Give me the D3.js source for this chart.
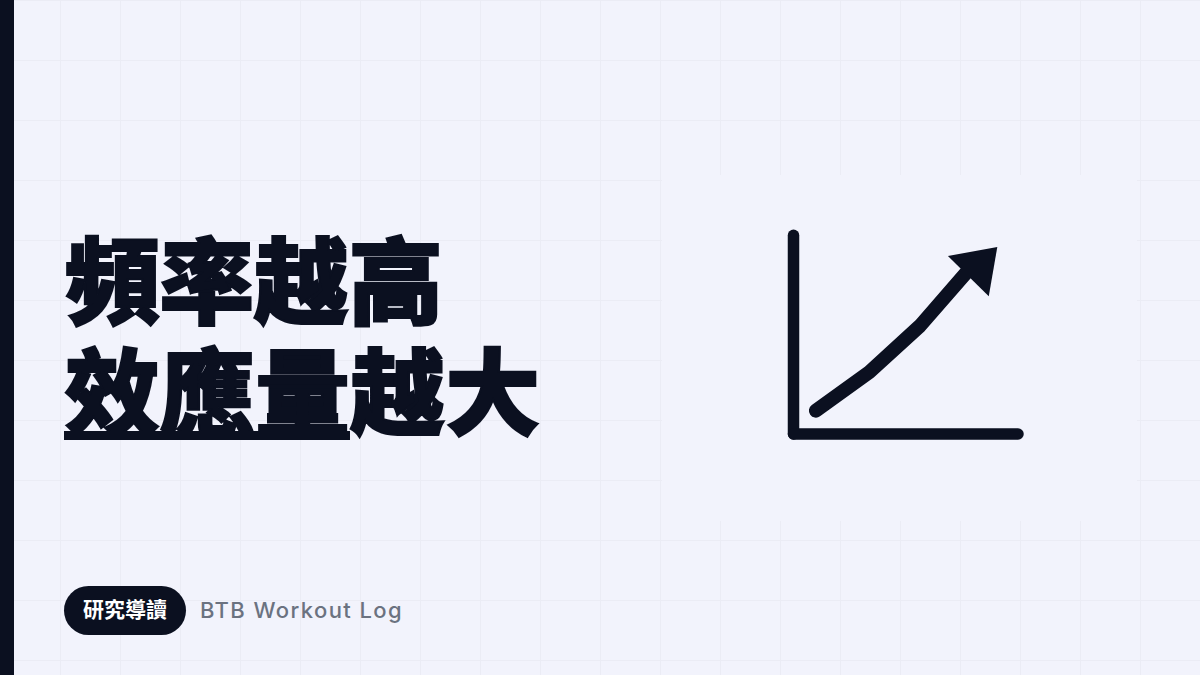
<!DOCTYPE html>
<html>
<head>
<meta charset="utf-8">
<script src="https://cdn.jsdelivr.net/npm/d3@7"></script>
<style>
  html, body { margin: 0; padding: 0; background: #f2f3fc; }
  svg { display: block; }
</style>
</head>
<body>
<svg class="d3-svg"></svg>
<script>
// values (icon axes run 0-100)
const titleLines = ["頻率越高", "效應量越大"];
const tagLabel = "研究導讀";
const brandLabel = "BTB Workout Log";
const curveX = [10.2, 34, 56.6, 76.9];
const curveY = [11.5, 30.9, 54.2, 80.5];
const arrowX = [91, 69, 87.2];
const arrowY = [93.8, 89.3, 69];

const width = 1200;
const height = 675;
const ink = "#0b1020";
const paper = "#f2f3fc";
const cjk = "'Noto Sans CJK TC', 'Noto Sans CJK SC', sans-serif";

const svg = d3.select(".d3-svg").attr("width", width).attr("height", height);

svg.append("rect").attr("width", width).attr("height", height).attr("fill", paper);

// faint background grid
const gridStep = 60;
svg.append("g").selectAll("line").data(d3.range(gridStep, width, gridStep)).join("line")
  .attr("x1", d => d + 0.5).attr("x2", d => d + 0.5).attr("y1", 0).attr("y2", height)
  .attr("stroke", "#ebecf5").attr("stroke-width", 1);
svg.append("g").selectAll("line").data(d3.range(0, height, gridStep)).join("line")
  .attr("x1", 14).attr("x2", width).attr("y1", d => d + 0.5).attr("y2", d => d + 0.5)
  .attr("stroke", "#ebecf5").attr("stroke-width", 1);

// panel behind the icon covers the grid
svg.append("rect").attr("x", 662).attr("y", 175).attr("width", 475).attr("height", 346).attr("fill", paper);

svg.append("rect").attr("width", 14).attr("height", height).attr("fill", ink);

// title, stroked to get the heavy look of the original
svg.append("g").selectAll("text").data(titleLines).join("text")
  .attr("x", 65)
  .attr("y", (d, i) => 317 + i * 111)
  .attr("font-family", cjk)
  .attr("font-weight", 900)
  .attr("font-size", 94.5)
  .attr("letter-spacing", (d, i) => i * 0.6)
  .attr("fill", ink)
  .attr("stroke", ink)
  .attr("stroke-width", 2.2)
  .attr("stroke-linejoin", "miter")
  .text(d => d);

// underline of the first three glyphs
svg.append("rect").attr("x", 64).attr("y", 431).attr("width", 286).attr("height", 9).attr("fill", ink);

// icon
const x = d3.scaleLinear().domain([0, 100]).range([793, 1017.5]);
const y = d3.scaleLinear().domain([0, 100]).range([433.5, 234.7]);

const icon = svg.append("g");
const axisStyle = g => g.select(".domain")
  .attr("stroke", ink).attr("stroke-width", 11.5).attr("stroke-linecap", "round").attr("stroke-linejoin", "round");

icon.append("g").attr("transform", "translate(" + x(0) + ",0)")
  .call(d3.axisLeft(y).tickValues([]).tickSize(0)).call(axisStyle);
icon.append("g").attr("transform", "translate(0," + y(0) + ")")
  .call(d3.axisBottom(x).tickValues([]).tickSize(0)).call(axisStyle);

const line = d3.line().x(d => x(d[0])).y(d => y(d[1]));

icon.append("path")
  .attr("fill", "none")
  .attr("stroke", ink)
  .attr("stroke-width", 14)
  .attr("stroke-linecap", "round")
  .attr("stroke-linejoin", "round")
  .attr("d", line(d3.zip(curveX, curveY)));

icon.append("path")
  .attr("fill", ink)
  .attr("d", line(d3.zip(arrowX, arrowY)) + "Z");

// footer tag
svg.append("rect").attr("x", 64).attr("y", 586).attr("width", 122).attr("height", 49).attr("rx", 24.5).attr("fill", ink);
svg.append("text").attr("x", 125).attr("y", 617)
  .attr("text-anchor", "middle")
  .attr("font-family", cjk).attr("font-weight", 700).attr("font-size", 21)
  .attr("fill", "#ffffff").text(tagLabel);
svg.append("text").attr("x", 200).attr("y", 618)
  .attr("font-family", "Inter, sans-serif").attr("font-weight", 500).attr("font-size", 22)
  .attr("letter-spacing", 1.4)
  .attr("fill", "#6b7280").text(brandLabel);
</script>
</body>
</html>
